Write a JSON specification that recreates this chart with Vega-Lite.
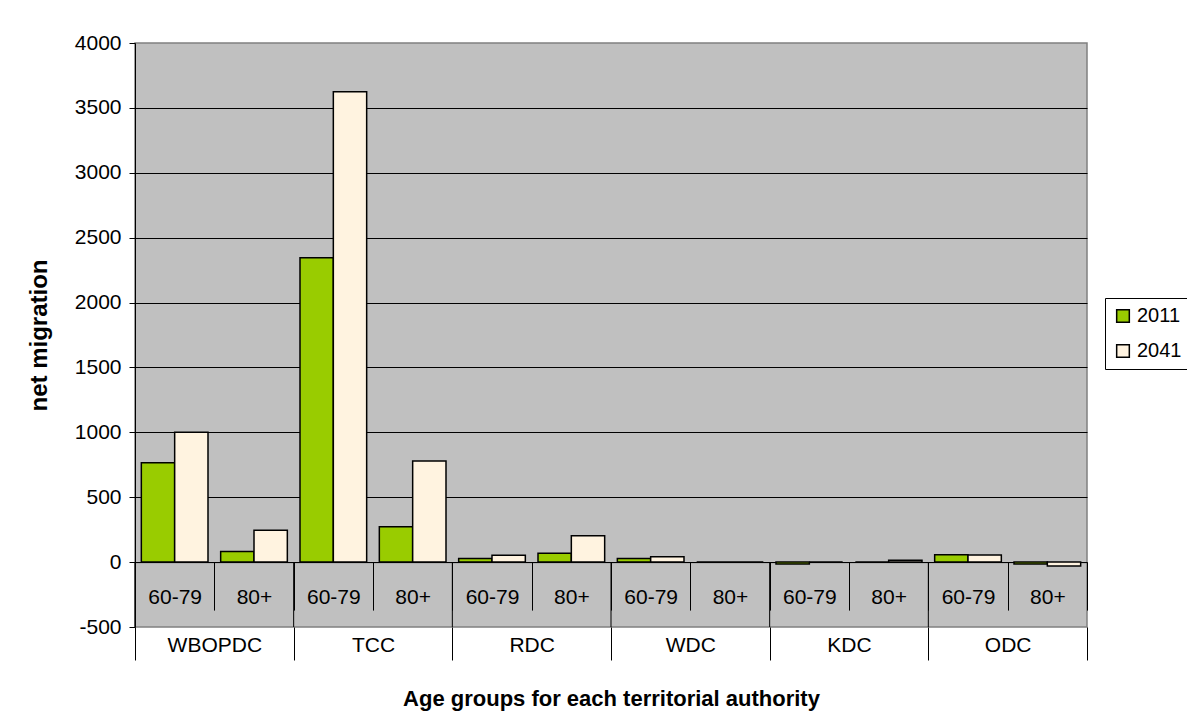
{
  "$schema": "https://vega.github.io/schema/vega-lite/v6.json",
  "width": 952,
  "height": 584,
  "autosize": {"type": "none"},
  "padding": {"left": 135, "top": 43, "right": 100, "bottom": 93},
  "background": "white",
  "config": {
    "font": "Liberation Sans",
    "view": {"fill": "#C0C0C0", "stroke": "#808080", "strokeWidth": 1.5},
    "axis": {"labelFont": "Liberation Sans", "titleFont": "Liberation Sans", "labelColor": "black", "titleColor": "black"}
  },
  "data": {
    "values": [
      {"ta": "WBOPDC", "age": "60-79", "key": "WBOPDC|60-79", "year": "2011", "value": 765},
      {"ta": "WBOPDC", "age": "60-79", "key": "WBOPDC|60-79", "year": "2041", "value": 1000},
      {"ta": "WBOPDC", "age": "80+", "key": "WBOPDC|80+", "year": "2011", "value": 81},
      {"ta": "WBOPDC", "age": "80+", "key": "WBOPDC|80+", "year": "2041", "value": 245},
      {"ta": "TCC", "age": "60-79", "key": "TCC|60-79", "year": "2011", "value": 2345},
      {"ta": "TCC", "age": "60-79", "key": "TCC|60-79", "year": "2041", "value": 3625},
      {"ta": "TCC", "age": "80+", "key": "TCC|80+", "year": "2011", "value": 273},
      {"ta": "TCC", "age": "80+", "key": "TCC|80+", "year": "2041", "value": 780},
      {"ta": "RDC", "age": "60-79", "key": "RDC|60-79", "year": "2011", "value": 28},
      {"ta": "RDC", "age": "60-79", "key": "RDC|60-79", "year": "2041", "value": 53},
      {"ta": "RDC", "age": "80+", "key": "RDC|80+", "year": "2011", "value": 69},
      {"ta": "RDC", "age": "80+", "key": "RDC|80+", "year": "2041", "value": 203},
      {"ta": "WDC", "age": "60-79", "key": "WDC|60-79", "year": "2011", "value": 28},
      {"ta": "WDC", "age": "60-79", "key": "WDC|60-79", "year": "2041", "value": 41},
      {"ta": "WDC", "age": "80+", "key": "WDC|80+", "year": "2011", "value": 0},
      {"ta": "WDC", "age": "80+", "key": "WDC|80+", "year": "2041", "value": 0},
      {"ta": "KDC", "age": "60-79", "key": "KDC|60-79", "year": "2011", "value": -15},
      {"ta": "KDC", "age": "60-79", "key": "KDC|60-79", "year": "2041", "value": 0},
      {"ta": "KDC", "age": "80+", "key": "KDC|80+", "year": "2011", "value": 0},
      {"ta": "KDC", "age": "80+", "key": "KDC|80+", "year": "2041", "value": 14},
      {"ta": "ODC", "age": "60-79", "key": "ODC|60-79", "year": "2011", "value": 57},
      {"ta": "ODC", "age": "60-79", "key": "ODC|60-79", "year": "2041", "value": 55},
      {"ta": "ODC", "age": "80+", "key": "ODC|80+", "year": "2011", "value": -14},
      {"ta": "ODC", "age": "80+", "key": "ODC|80+", "year": "2041", "value": -30}
    ]
  },
  "layer": [
    {
      "mark": {"type": "bar", "stroke": "black", "strokeWidth": 1.5},
      "encoding": {
        "x": {
          "field": "key", "type": "nominal",
          "scale": {
            "domain": ["WBOPDC|60-79", "WBOPDC|80+", "TCC|60-79", "TCC|80+", "RDC|60-79", "RDC|80+", "WDC|60-79", "WDC|80+", "KDC|60-79", "KDC|80+", "ODC|60-79", "ODC|80+"],
            "paddingInner": 0, "paddingOuter": 0
          },
          "axis": {
            "orient": "bottom", "offset": -64.9, "title": null,
            "labelExpr": "split(datum.label, '|')[1]",
            "labelAngle": 0, "labelFontSize": 21, "labelPadding": -24,
            "tickBand": "extent", "tickSize": 48, "tickColor": "black", "tickWidth": 1,
            "domainColor": "black", "domainWidth": 1, "grid": false
          }
        },
        "xOffset": {"field": "year", "type": "nominal", "scale": {"paddingOuter": 0.19, "paddingInner": 0}},
        "y": {
          "field": "value", "type": "quantitative",
          "scale": {"domain": [-500, 4000], "nice": false, "zero": false},
          "axis": {
            "title": "net migration", "titleFontSize": 24, "titleFontWeight": "bold", "titlePadding": 23,
            "values": [-500, 0, 500, 1000, 1500, 2000, 2500, 3000, 3500, 4000],
            "labelExpr": "'' + datum.value",
            "labelFontSize": 21, "labelPadding": 8, "tickSize": 6, "tickColor": "black",
            "domainColor": "black", "domainWidth": 1,
            "grid": true,
            "gridColor": {"condition": {"test": "datum.value === -500 || datum.value === 4000", "value": "transparent"}, "value": "black"},
            "gridWidth": 1, "gridOpacity": 1
          }
        },
        "color": {
          "field": "year", "type": "nominal",
          "scale": {"domain": ["2011", "2041"], "range": ["#99CC00", "#FFF3E0"]},
          "legend": {
            "title": null, "orient": "none", "legendX": 970, "legendY": 255,
            "strokeColor": "black", "fillColor": "white", "padding": 8,
            "symbolType": "square", "symbolSize": 160, "symbolStrokeColor": "black", "symbolStrokeWidth": 1.5,
            "labelFontSize": 20, "labelFont": "Liberation Sans", "labelColor": "black", "labelOffset": 4,
            "rowPadding": 15
          }
        }
      }
    },
    {
      "transform": [{"filter": "datum.year === '2011' && datum.age === '60-79'"}],
      "mark": {"type": "rule", "color": "black", "strokeWidth": 1},
      "encoding": {
        "x": {
          "field": "ta", "type": "nominal", "bandPosition": 0,
          "scale": {"domain": ["WBOPDC", "TCC", "RDC", "WDC", "KDC", "ODC"], "paddingInner": 0, "paddingOuter": 0},
          "axis": {
            "orient": "bottom", "offset": 0,
            "title": "Age groups for each territorial authority", "titleFontSize": 22, "titleFontWeight": "bold", "titlePadding": 28,
            "labelAngle": 0, "labelFontSize": 21, "labelPadding": -26,
            "tickBand": "extent", "tickSize": 33, "tickColor": "black", "tickWidth": 1,
            "domain": false, "grid": false
          }
        },
        "y": {"datum": 0},
        "y2": {"datum": -500}
      }
    }
  ],
  "resolve": {"scale": {"x": "independent"}, "axis": {"x": "independent"}}
}
